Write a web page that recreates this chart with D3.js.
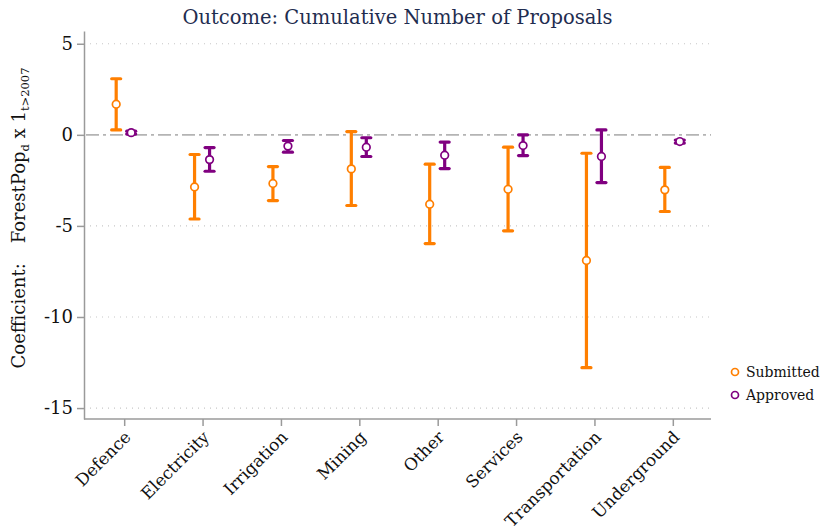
<!DOCTYPE html>
<html>
<head>
<meta charset="utf-8">
<script src="https://cdn.jsdelivr.net/npm/d3@7"></script>
<style>
  html, body { margin: 0; padding: 0; background: #fff; }
  svg { display: block; font-family: "DejaVu Serif", "Liberation Serif", serif; }
</style>
</head>
<body>
<svg id="chart" width="822" height="530"></svg>
<script>
// ---- data ----
const categories = ["Defence", "Electricity", "Irrigation", "Mining", "Other", "Services", "Transportation", "Underground"];
const seriesNames = ["Submitted", "Approved"];
const submittedEst = [1.68, -2.86, -2.67, -1.87, -3.81, -2.99, -6.90, -3.02];
const submittedLo  = [0.27, -4.62, -3.61, -3.88, -5.97, -5.27, -12.78, -4.21];
const submittedHi  = [3.08, -1.08, -1.74, 0.18, -1.61, -0.68, -1.01, -1.79];
const approvedEst  = [0.12, -1.36, -0.62, -0.68, -1.12, -0.59, -1.19, -0.37];
const approvedLo   = [0.04, -2.00, -0.95, -1.19, -1.85, -1.14, -2.62, -0.45];
const approvedHi   = [0.20, -0.70, -0.31, -0.16, -0.40, 0.00, 0.27, -0.29];
const yTicks = [5, 0, -5, -10, -15];
const titleText = "Outcome: Cumulative Number of Proposals";

const colors = { Submitted: "#ff7f00", Approved: "#800080" };

const svg = d3.select("#chart");
const mLeft = 84, mRight = 711, mTop = 31, mBottom = 419;

const x = d3.scalePoint().domain(categories).range([mLeft + 1, mRight + 1]).padding(0.5);
const y = d3.scaleLinear().domain([-15.6, 5.7]).range([mBottom, mTop]);
const offsets = { Submitted: -8, Approved: 7 };

// gridlines
svg.append("g").selectAll("line")
  .data(yTicks.filter(d => d !== 0))
  .join("line")
  .attr("x1", mLeft + 6).attr("x2", mRight)
  .attr("y1", d => y(d)).attr("y2", d => y(d))
  .attr("stroke", "#c8c8c8").attr("stroke-width", 1.2)
  .attr("stroke-dasharray", "1,5");

// zero reference line
svg.append("line")
  .attr("x1", mLeft + 2).attr("x2", mRight)
  .attr("y1", y(0)).attr("y2", y(0))
  .attr("stroke", "#b4b4b4").attr("stroke-width", 1.6)
  .attr("stroke-dasharray", "13,4,3,4");

// axes
const yAxis = svg.append("g").attr("transform", `translate(${mLeft},0)`)
  .call(d3.axisLeft(y).tickValues(yTicks).tickFormat(d => String(d)).tickSize(7).tickSizeOuter(0).tickPadding(4));
yAxis.selectAll("path, line").attr("stroke", "#9a9a9a").attr("stroke-width", 1.5);
yAxis.selectAll("text").attr("font-size", 18).attr("fill", "#111").attr("font-family", "DejaVu Serif");

const xAxis = svg.append("g").attr("transform", `translate(0,${mBottom})`)
  .call(d3.axisBottom(x).tickSize(7).tickSizeOuter(0));
xAxis.select("path").attr("d", `M${mLeft},0H${mRight}`);
xAxis.selectAll("path, line").attr("stroke", "#9a9a9a").attr("stroke-width", 1.5);
xAxis.selectAll("text")
  .attr("font-size", 16.8).attr("fill", "#111").attr("font-family", "DejaVu Serif")
  .attr("text-anchor", "end")
  .attr("y", 0).attr("dy", "0.35em")
  .attr("transform", "translate(3,15) rotate(-45)");

// series
function drawSeries(name, est, lo, hi) {
  const g = svg.append("g");
  const c = colors[name];
  const dx = offsets[name];
  const rows = categories.map((k, i) => ({ k, est: est[i], lo: lo[i], hi: hi[i] }));
  g.selectAll("line.bar").data(rows).join("line").attr("class", "bar")
    .attr("x1", d => x(d.k) + dx).attr("x2", d => x(d.k) + dx)
    .attr("y1", d => y(d.lo)).attr("y2", d => y(d.hi))
    .attr("stroke", c).attr("stroke-width", 3.2);
  ["lo", "hi"].forEach(end => {
    g.selectAll("line.cap" + end).data(rows).join("line").attr("class", "cap" + end)
      .attr("x1", d => x(d.k) + dx - 4.5).attr("x2", d => x(d.k) + dx + 4.5)
      .attr("y1", d => y(d[end])).attr("y2", d => y(d[end]))
      .attr("stroke", c).attr("stroke-width", 3.2).attr("stroke-linecap", "round");
  });
  g.selectAll("circle").data(rows).join("circle")
    .attr("cx", d => x(d.k) + dx).attr("cy", d => y(d.est)).attr("r", 3.8)
    .attr("fill", "#fff").attr("stroke", c).attr("stroke-width", 1.7);
}
drawSeries("Submitted", submittedEst, submittedLo, submittedHi);
drawSeries("Approved", approvedEst, approvedLo, approvedHi);

// title
svg.append("text")
  .attr("x", (mLeft + mRight) / 2).attr("y", 24)
  .attr("text-anchor", "middle").attr("font-size", 19.5)
  .attr("fill", "#1f2d50")
  .text(titleText);

// y-axis label
const yl = svg.append("text")
  .attr("transform", `translate(25,${(mTop + mBottom) / 2 - 7}) rotate(-90)`)
  .attr("text-anchor", "middle").attr("font-size", 18).attr("fill", "#111");
yl.append("tspan").text("Coefficient:");
yl.append("tspan").attr("dx", 20).text("ForestPop");
yl.append("tspan").attr("font-size", 11.5).attr("dy", 4).text("d");
yl.append("tspan").attr("dy", -4).text(" x 1");
yl.append("tspan").attr("font-size", 11.5).attr("dy", 4).text("t>2007");

// legend
const lg = svg.append("g");
seriesNames.forEach((n, i) => {
  const yy = 372 + i * 23;
  lg.append("circle").attr("cx", 735).attr("cy", yy).attr("r", 3.5)
    .attr("fill", "#fff").attr("stroke", colors[n]).attr("stroke-width", 1.7);
  lg.append("text").attr("x", 746).attr("y", yy).attr("dy", "0.35em")
    .attr("font-size", 14).attr("fill", "#111").text(n);
});
</script>
</body>
</html>
